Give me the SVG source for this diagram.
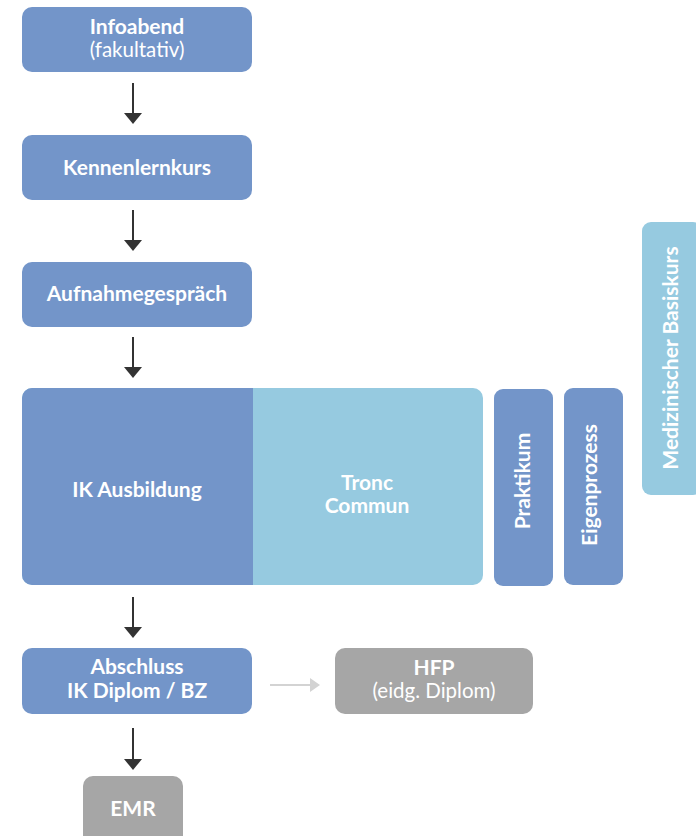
<svg xmlns="http://www.w3.org/2000/svg" width="696" height="836" viewBox="0 0 696 836">
<defs>
<style>
.dk{fill:#7395c9}
.lt{fill:#96cae0}
.gr{fill:#a6a6a6}
.t{font-family:Lato,"Open Sans",sans-serif;fill:#fff;text-anchor:middle}
.b{font-weight:bold;font-size:21px}
.n{font-size:20.5px}
.c{stroke:#333;stroke-width:2;fill:none}
</style>
</defs>
<g id="connectors">
<line class="c" x1="133" y1="83" x2="133" y2="113"/><path d="M124,113 H142 L133,124 z" fill="#333"/>
<line class="c" x1="133" y1="210" x2="133" y2="240"/><path d="M124,240 H142 L133,251 z" fill="#333"/>
<line class="c" x1="133" y1="337" x2="133" y2="367"/><path d="M124,367 H142 L133,378 z" fill="#333"/>
<line class="c" x1="133" y1="597" x2="133" y2="627"/><path d="M124,627 H142 L133,638 z" fill="#333"/>
<line class="c" x1="133" y1="728" x2="133" y2="759"/><path d="M124,759 H142 L133,770 z" fill="#333"/>
<line x1="270" y1="685" x2="310" y2="685" stroke="#d3d3d3" stroke-width="2"/><path d="M310,678 L320,685 L310,692 z" fill="#d3d3d3"/>
</g>
<g id="infoabend">
<rect class="dk" x="22" y="7" width="230" height="65" rx="10"/>
<text class="t b" x="137" y="34">Infoabend</text>
<text class="t n" x="137" y="57">(fakultativ)</text>
</g>
<g id="kennenlernkurs">
<rect class="dk" x="22" y="135" width="230" height="65" rx="10"/>
<text class="t b" x="137" y="175">Kennenlernkurs</text>
</g>
<g id="aufnahmegespraech">
<rect class="dk" x="22" y="262" width="230" height="65" rx="10"/>
<text class="t b" x="137" y="301">Aufnahmegespräch</text>
</g>
<g id="ausbildung">
<rect class="lt" x="22" y="388" width="461" height="197" rx="10"/>
<path class="dk" d="M32,388 H253 V585 H32 A10,10 0 0 1 22,575 V398 A10,10 0 0 1 32,388 z"/>
<text class="t b" x="137" y="497">IK Ausbildung</text>
</g>
<g id="tronc">
<text class="t b" x="367" y="490">Tronc</text>
<text class="t b" x="367" y="513">Commun</text>
</g>
<g id="praktikum">
<rect class="dk" x="494" y="389" width="59" height="197" rx="9"/>
<text class="t b" transform="translate(530,481) rotate(-90)">Praktikum</text>
</g>
<g id="eigenprozess">
<rect class="dk" x="564" y="388" width="59" height="197" rx="9"/>
<text class="t b" transform="translate(597,485) rotate(-90)">Eigenprozess</text>
</g>
<g id="basiskurs">
<rect class="lt" x="642" y="222" width="60" height="273" rx="9"/>
<text class="t b" transform="translate(678,358) rotate(-90)">Medizinischer Basiskurs</text>
</g>
<g id="abschluss">
<rect class="dk" x="22" y="648" width="230" height="66" rx="10"/>
<text class="t b" x="137" y="674">Abschluss</text>
<text class="t b" x="137" y="698">IK Diplom / BZ</text>
</g>
<g id="hfp">
<rect class="gr" x="335" y="648" width="198" height="66" rx="10"/>
<text class="t b" x="434" y="675">HFP</text>
<text class="t n" x="434" y="698">(eidg. Diplom)</text>
</g>
<g id="emr">
<rect class="gr" x="83" y="776" width="100" height="70" rx="10"/>
<text class="t b" x="133" y="816">EMR</text>
</g>
</svg>
